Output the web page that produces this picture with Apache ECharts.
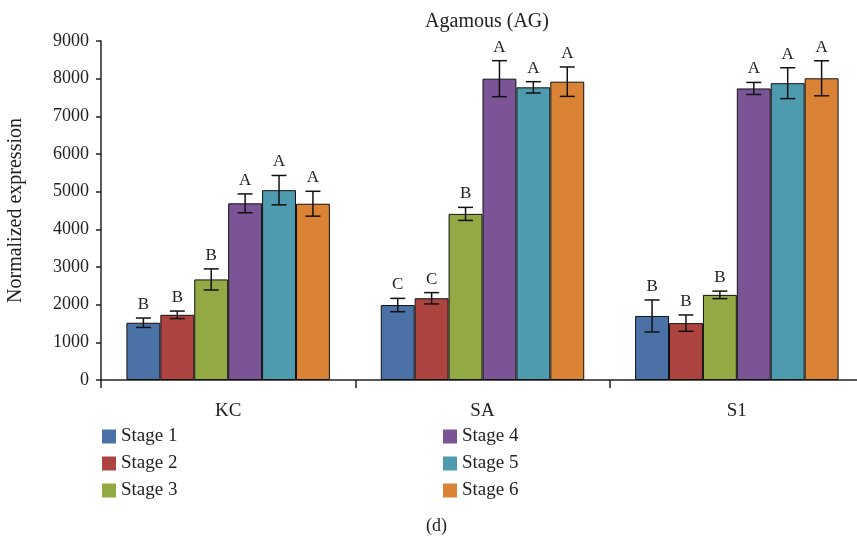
<!DOCTYPE html>
<html>
<head>
<meta charset="utf-8">
<script src="https://cdn.jsdelivr.net/npm/echarts@6/dist/echarts.min.js"></script>
<style>html,body{margin:0;padding:0;background:#fff}#c{width:857px;height:537px}</style>
</head>
<body>
<div id="c"></div>
<script>
var categories = ['KC', 'SA', 'S1'];
var stageNames = ['Stage 1', 'Stage 2', 'Stage 3', 'Stage 4', 'Stage 5', 'Stage 6'];
var stage1 = [1520, 1990, 1700];
var stage2 = [1730, 2170, 1510];
var stage3 = [2670, 4410, 2260];
var stage4 = [4690, 8000, 7740];
var stage5 = [5040, 7770, 7880];
var stage6 = [4680, 7920, 8010];
var err1 = [125, 177, 425];
var err2 = [100, 150, 217];
var err3 = [280, 173, 100];
var err4 = [250, 478, 160];
var err5 = [390, 150, 410];
var err6 = [330, 390, 465];
var letters1 = ['B', 'C', 'B'];
var letters2 = ['B', 'C', 'B'];
var letters3 = ['B', 'B', 'B'];
var letters4 = ['A', 'A', 'A'];
var letters5 = ['A', 'A', 'A'];
var letters6 = ['A', 'A', 'A'];
var yTicks = [0, 1000, 2000, 3000, 4000, 5000, 6000, 7000, 8000, 9000];

var colors = ['#4A72A6', '#AE4440', '#93A944', '#7A5494', '#4E9BB0', '#DA8335'];
var values = [stage1, stage2, stage3, stage4, stage5, stage6];
var errs = [err1, err2, err3, err4, err5, err6];
var letters = [letters1, letters2, letters3, letters4, letters5, letters6];
var FONT = '"Liberation Serif", "DejaVu Serif", serif';
var GAP = 0.2;

var series = [];
values.forEach(function (vals, s) {
  series.push({
    name: stageNames[s],
    type: 'bar',
    data: vals,
    barGap: '0%',
    barCategoryGap: (GAP * 100) + '%',
    itemStyle: { color: colors[s], borderColor: '#111', borderWidth: 1 },
    emphasis: { disabled: true },
    z: 2
  });
});
values.forEach(function (vals, s) {
  series.push({
    type: 'custom',
    name: 'err' + s,
    z: 5,
    clip: false,
    silent: true,
    data: vals.map(function (v, i) { return [i, v, errs[s][i]]; }),
    renderItem: function (params, api) {
      var i = api.value(0), v = api.value(1), e = api.value(2);
      var band = api.size([1, 0])[0];
      var bw = band * (1 - GAP) / 6;
      var c = api.coord([i, v]);
      var x = c[0] + (s - 2.5) * bw;
      var yTop = api.coord([i, v + e])[1];
      var yBot = api.coord([i, v - e])[1];
      var cap = 7.5;
      var st = { stroke: '#111', lineWidth: 1.5 };
      return {
        type: 'group',
        children: [
          { type: 'line', shape: { x1: x, y1: yTop, x2: x, y2: yBot }, style: st },
          { type: 'line', shape: { x1: x - cap, y1: yTop, x2: x + cap, y2: yTop }, style: st },
          { type: 'line', shape: { x1: x - cap, y1: yBot, x2: x + cap, y2: yBot }, style: st },
          { type: 'text', x: x, y: yTop - 5, style: { text: letters[s][i], fill: '#222', font: '17px ' + FONT, align: 'center', verticalAlign: 'bottom' } }
        ]
      };
    }
  });
});

var legendCommon = {
  orient: 'vertical', top: 427, padding: 0,
  itemWidth: 14, itemHeight: 14, itemGap: 8, icon: 'rect', selectedMode: false,
  itemStyle: { borderWidth: 0 },
  textStyle: { fontFamily: FONT, fontSize: 19, color: '#222' }
};

var chart = echarts.init(document.getElementById('c'), null, { renderer: 'canvas' });
chart.setOption({
  animation: false,
  backgroundColor: '#fff',
  title: {
    text: 'Agamous (AG)',
    left: 482, top: 7, textAlign: 'center',
    textStyle: { fontFamily: FONT, fontSize: 20, fontWeight: 'normal', color: '#222' }
  },
  legend: [
    Object.assign({}, legendCommon, { data: stageNames.slice(0, 3), left: 102 }),
    Object.assign({}, legendCommon, { data: stageNames.slice(3, 6), left: 443 })
  ],
  grid: { left: 101, top: 41, width: 763, height: 339, outerBoundsMode: 'none' },
  xAxis: {
    type: 'category',
    data: categories,
    axisLine: { lineStyle: { color: '#222', width: 1.5 } },
    axisTick: { show: true, length: 8, interval: 0, lineStyle: { color: '#222', width: 1.5 } },
    axisLabel: { margin: 22, fontFamily: FONT, fontSize: 19, color: '#222' }
  },
  yAxis: {
    type: 'value',
    min: 0, max: 9000, interval: 1000,
    name: 'Normalized expression',
    nameLocation: 'middle',
    nameGap: 75,
    nameTextStyle: { fontFamily: FONT, fontSize: 20, color: '#222' },
    axisLine: { show: true, lineStyle: { color: '#222', width: 1.5 } },
    axisTick: { show: true, length: 5, lineStyle: { color: '#222', width: 1.5 } },
    splitLine: { show: false },
    axisLabel: {
      margin: 12, fontFamily: FONT, fontSize: 18, color: '#222',
      formatter: function (v) { return yTicks.indexOf(v) >= 0 ? String(v) : ''; }
    }
  },
  graphic: [
    { type: 'text', left: 426, top: 517, style: { text: '(d)', font: '18px ' + FONT, fill: '#222' } }
  ],
  series: series
});
</script>
</body>
</html>
